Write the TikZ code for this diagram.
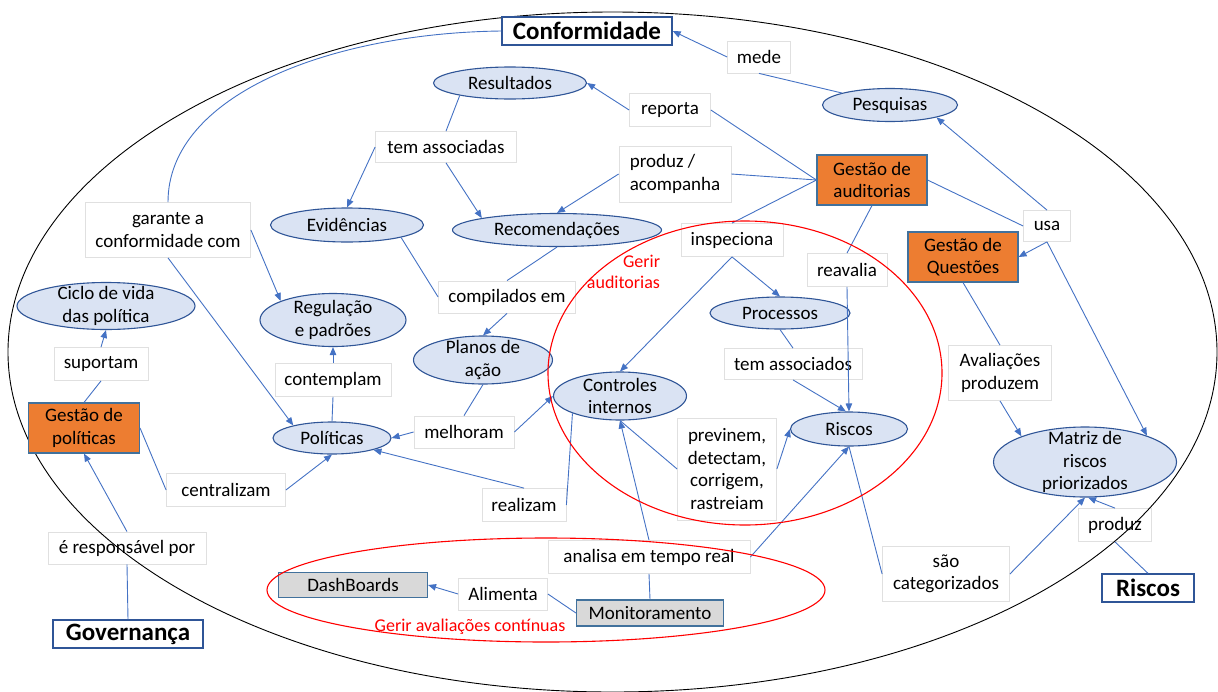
\documentclass[tikz,border=0pt]{standalone}
\usepackage{fontspec}
\setmainfont{Carlito}
\usetikzlibrary{shapes.geometric,arrows.meta}
\definecolor{linkblue}{HTML}{4472C4}
\definecolor{ovalfill}{HTML}{DAE3F3}
\definecolor{ovaledge}{HTML}{2F5597}
\definecolor{orangefill}{HTML}{ED7D31}
\definecolor{boxedge}{HTML}{41719C}
\definecolor{grayfill}{HTML}{D9D9D9}
\definecolor{tagedge}{HTML}{E0E0E0}
\definecolor{areared}{HTML}{FF0000}

\begin{document}
\begin{tikzpicture}[x=1pt,y=-1pt,
  base/.style={inner sep=0pt, font=\fontsize{19}{22.5}\selectfont, align=center},
  tag/.style 2 args={base, draw=tagedge, fill=white, line width=0.8pt,
    minimum width=#1, minimum height=#2},
  head/.style 2 args={base, draw=ovaledge, fill=white, line width=1.3pt,
    font=\fontsize{25}{28}\selectfont\bfseries, minimum width=#1, minimum height=#2},
  orangebox/.style 2 args={base, draw=boxedge, fill=orangefill, line width=1.1pt,
    minimum width=#1, minimum height=#2},
  graybox/.style 2 args={base, draw=boxedge, fill=grayfill, line width=1.1pt,
    minimum width=#1, minimum height=#2},
  oval/.style 2 args={ellipse, draw=ovaledge, fill=ovalfill, line width=1.1pt,
    inner sep=0pt, minimum width=#1, minimum height=#2},
  txt/.style={base},
  redtxt/.style={inner sep=0pt, font=\fontsize{18}{21}\selectfont, text=areared},
  link/.style={draw=linkblue, line width=0.9pt},
  arr/.style={link, -{Triangle[length=8pt,width=6.5pt]}},
  area/.style={draw=areared, line width=1.1pt}
]
\useasboundingbox (0,0) rectangle (1218,691);
\clip (0,0) rectangle (1218,691);

% relation labels
\node[tag={63}{32}] (mede) at (759,57) {mede};
\node[tag={81}{33}] (reporta) at (670,110) {reporta};
\node[tag={141}{31}] (temas) at (446,147) {tem associadas};
\node[tag={112}{56}, align=left] (prodac) at (675,174) {produz /\\acompanha};
\node[tag={165}{55}] (gar) at (168,230) {garante a\\conformidade com};
\node[tag={102}{33}] (insp) at (732,240) {inspeciona};
\node[tag={80}{33}] (reav) at (847,270) {reavalia};
\node[tag={47}{31}] (usa) at (1047,226) {usa};
\node[tag={137}{32}] (comp) at (507,297) {compilados em};
\node[tag={94}{33}] (sup) at (101,364) {suportam};
\node[tag={116}{33}] (cont) at (333,380) {contemplam};
\node[tag={100}{32}] (melh) at (464,432) {melhoram};
\node[tag={119}{33}] (cent) at (226,490) {centralizam};
\node[tag={84}{33}] (real) at (524,505) {realizam};
\node[tag={138}{31}] (temos) at (793,364) {tem associados};
\node[tag={99}{102}] (prev) at (727,469) {previnem,\\detectam,\\corrigem,\\rastreiam};
\node[tag={202}{33}] (anal) at (649,557) {analisa em tempo real};
\node[tag={89}{32}] (alim) at (503,594) {Alimenta};
\node[tag={158}{32}] (resp) at (127,548) {é responsável por};
\node[tag={103}{55}] (aval) at (1000,373) {Avaliações\\produzem};
\node[tag={127}{55}] (sao) at (946,574) {são\\categorizados};
\node[tag={73}{33}] (prod) at (1115,525) {produz};

% outer boundary
\draw[black, line width=0.9pt] (612.5,352) ellipse [x radius=604.5, y radius=340];

% headings
\node[head={170}{28}] (conf) at (587,31) {Conformidade};
\node[head={150}{28}] (gov) at (128,634) {Governança};
\node[head={92}{28}] (riskh) at (1148,588) {Riscos};

% management processes
\node[orangebox={110}{50}] (gaud) at (872,180) {Gestão de\\auditorias};
\node[orangebox={110}{50}] (gq) at (963,257) {Gestão de\\Questões};
\node[orangebox={111}{50}] (gpol) at (84,428) {Gestão de\\políticas};
\node[graybox={149}{25}] (dash) at (353,585) {DashBoards};
\node[graybox={147}{26}] (mon) at (650,613) {Monitoramento};

% concepts
\node[oval={153}{32}, label={[txt]center:Resultados}] (res) at (510,83) {};
\node[oval={135}{33}, label={[txt]center:Pesquisas}] (pesq) at (890,105) {};
\node[oval={153}{34}, label={[txt]center:Evidências}] (evid) at (347,225) {};
\node[oval={209}{33}, label={[txt]center:Recomendações}] (rec) at (557,230) {};
\node[oval={146}{53}, label={[txt]center:{Regulação\\e padrões}}] (reg) at (333,320) {};
\node[oval={178}{47}, label={[txt]center:{Ciclo de vida\\das política}}] (ciclo) at (106,306) {};
\node[oval={118}{32}, label={[txt]center:Políticas}] (pol) at (332,438) {};
\node[oval={139}{48}, label={[txt]center:{Planos de\\ação}}] (planos) at (483,360) {};
\node[oval={133}{48}, label={[txt]center:{Controles\\internos}}] (ctrl) at (620,396) {};
\node[oval={140}{32}, label={[txt]center:Processos}] (proc) at (780,313) {};
\node[oval={117}{34}, label={[txt]center:Riscos}] (risk) at (849,429) {};
\node[oval={183}{70}, label={[txt]center:{Matriz de\\riscos\\priorizados}}] (matriz) at (1085,462) {};

% connectors
\draw[link] (gar.north) .. controls (168,95) and (330,33) .. (conf.west);
\draw[arr] (gar.east) -- (reg.160);
\draw[arr] (gar.south) -- (pol.162);
\draw[link] (pesq.166) -- (mede.south);
\draw[arr] (mede.west) -- (conf.east);
\draw[link] (gaud.west) -- (reporta.east);
\draw[arr] (reporta.west) -- (res.east);
\draw[link] (gaud.west) -- (prodac.east);
\draw[arr] (prodac.west) -- (rec.north);
\draw[link] (gaud.west) -- (insp.north);
\draw[arr] (insp.south) -- (proc.north);
\draw[arr] (insp.south) -- (ctrl.north);
\draw[link] (gaud.south) -- (reav.north);
\draw[arr] (reav.south) -- (risk.north);
\draw[link] (gaud.east) -- (usa.west);
\draw[arr] (usa.north) -- (pesq.-15);
\draw[arr] (usa.south) -- (gq.east);
\draw[arr] (usa.south) -- (matriz.23);
\draw[link] (gq.south) -- (aval.north);
\draw[arr] (aval.south) -- (matriz.158);
\draw[link] (risk.south) -- (sao.west);
\draw[arr] (sao.east) -- (matriz.south);
\draw[link] (riskh.north) -- (prod.south);
\draw[arr] (prod.north) -- (matriz.-85);
\draw[link] (res.194) -- (temas.north);
\draw[arr] (temas.west) -- (evid.north);
\draw[arr] (temas.south) -- (rec.171);
\draw[link] (evid.-13) -- (comp.west);
\draw[link] (rec.south) -- (comp.north);
\draw[arr] (comp.south) -- (planos.north);
\draw[link] (planos.south) -- (melh.north);
\draw[arr] (melh.west) -- (pol.east);
\draw[arr] (melh.east) -- (ctrl.west);
\draw[link] (pol.north) -- (cont.south);
\draw[arr] (cont.north) -- (reg.south);
\draw[link] (gpol.north) -- (sup.south);
\draw[arr] (sup.north) -- (ciclo.south);
\draw[link] (gpol.east) -- (cent.west);
\draw[arr] (cent.east) -- (pol.south);
\draw[link] (gov.north) -- (resp.south);
\draw[arr] (resp.north) -- (gpol.south);
\draw[link] (ctrl.200) -- (real.east);
\draw[arr] (real.north) -- (pol.-16);
\draw[link] (ctrl.south) -- (prev.west);
\draw[arr] (prev.east) -- (risk.west);
\draw[link] (mon.north) -- (anal.south);
\draw[arr] (anal.north) -- (ctrl.south);
\draw[arr] (anal.east) -- (risk.south);
\draw[link] (mon.west) -- (alim.east);
\draw[arr] (alim.west) -- (dash.east);
\draw[link] (proc.south) -- (temos.north);
\draw[arr] (temos.south) -- (risk.100);

% process areas
\draw[area] (745,373) ellipse [x radius=197, y radius=152];
\draw[area] (546,590) ellipse [x radius=279, y radius=52];
\node[redtxt, align=right] (audarea) at (623.5,272) {Gerir\\auditorias};
\node[redtxt] (evalarea) at (470,627) {Gerir avaliações contínuas};
\end{tikzpicture}
\end{document}
